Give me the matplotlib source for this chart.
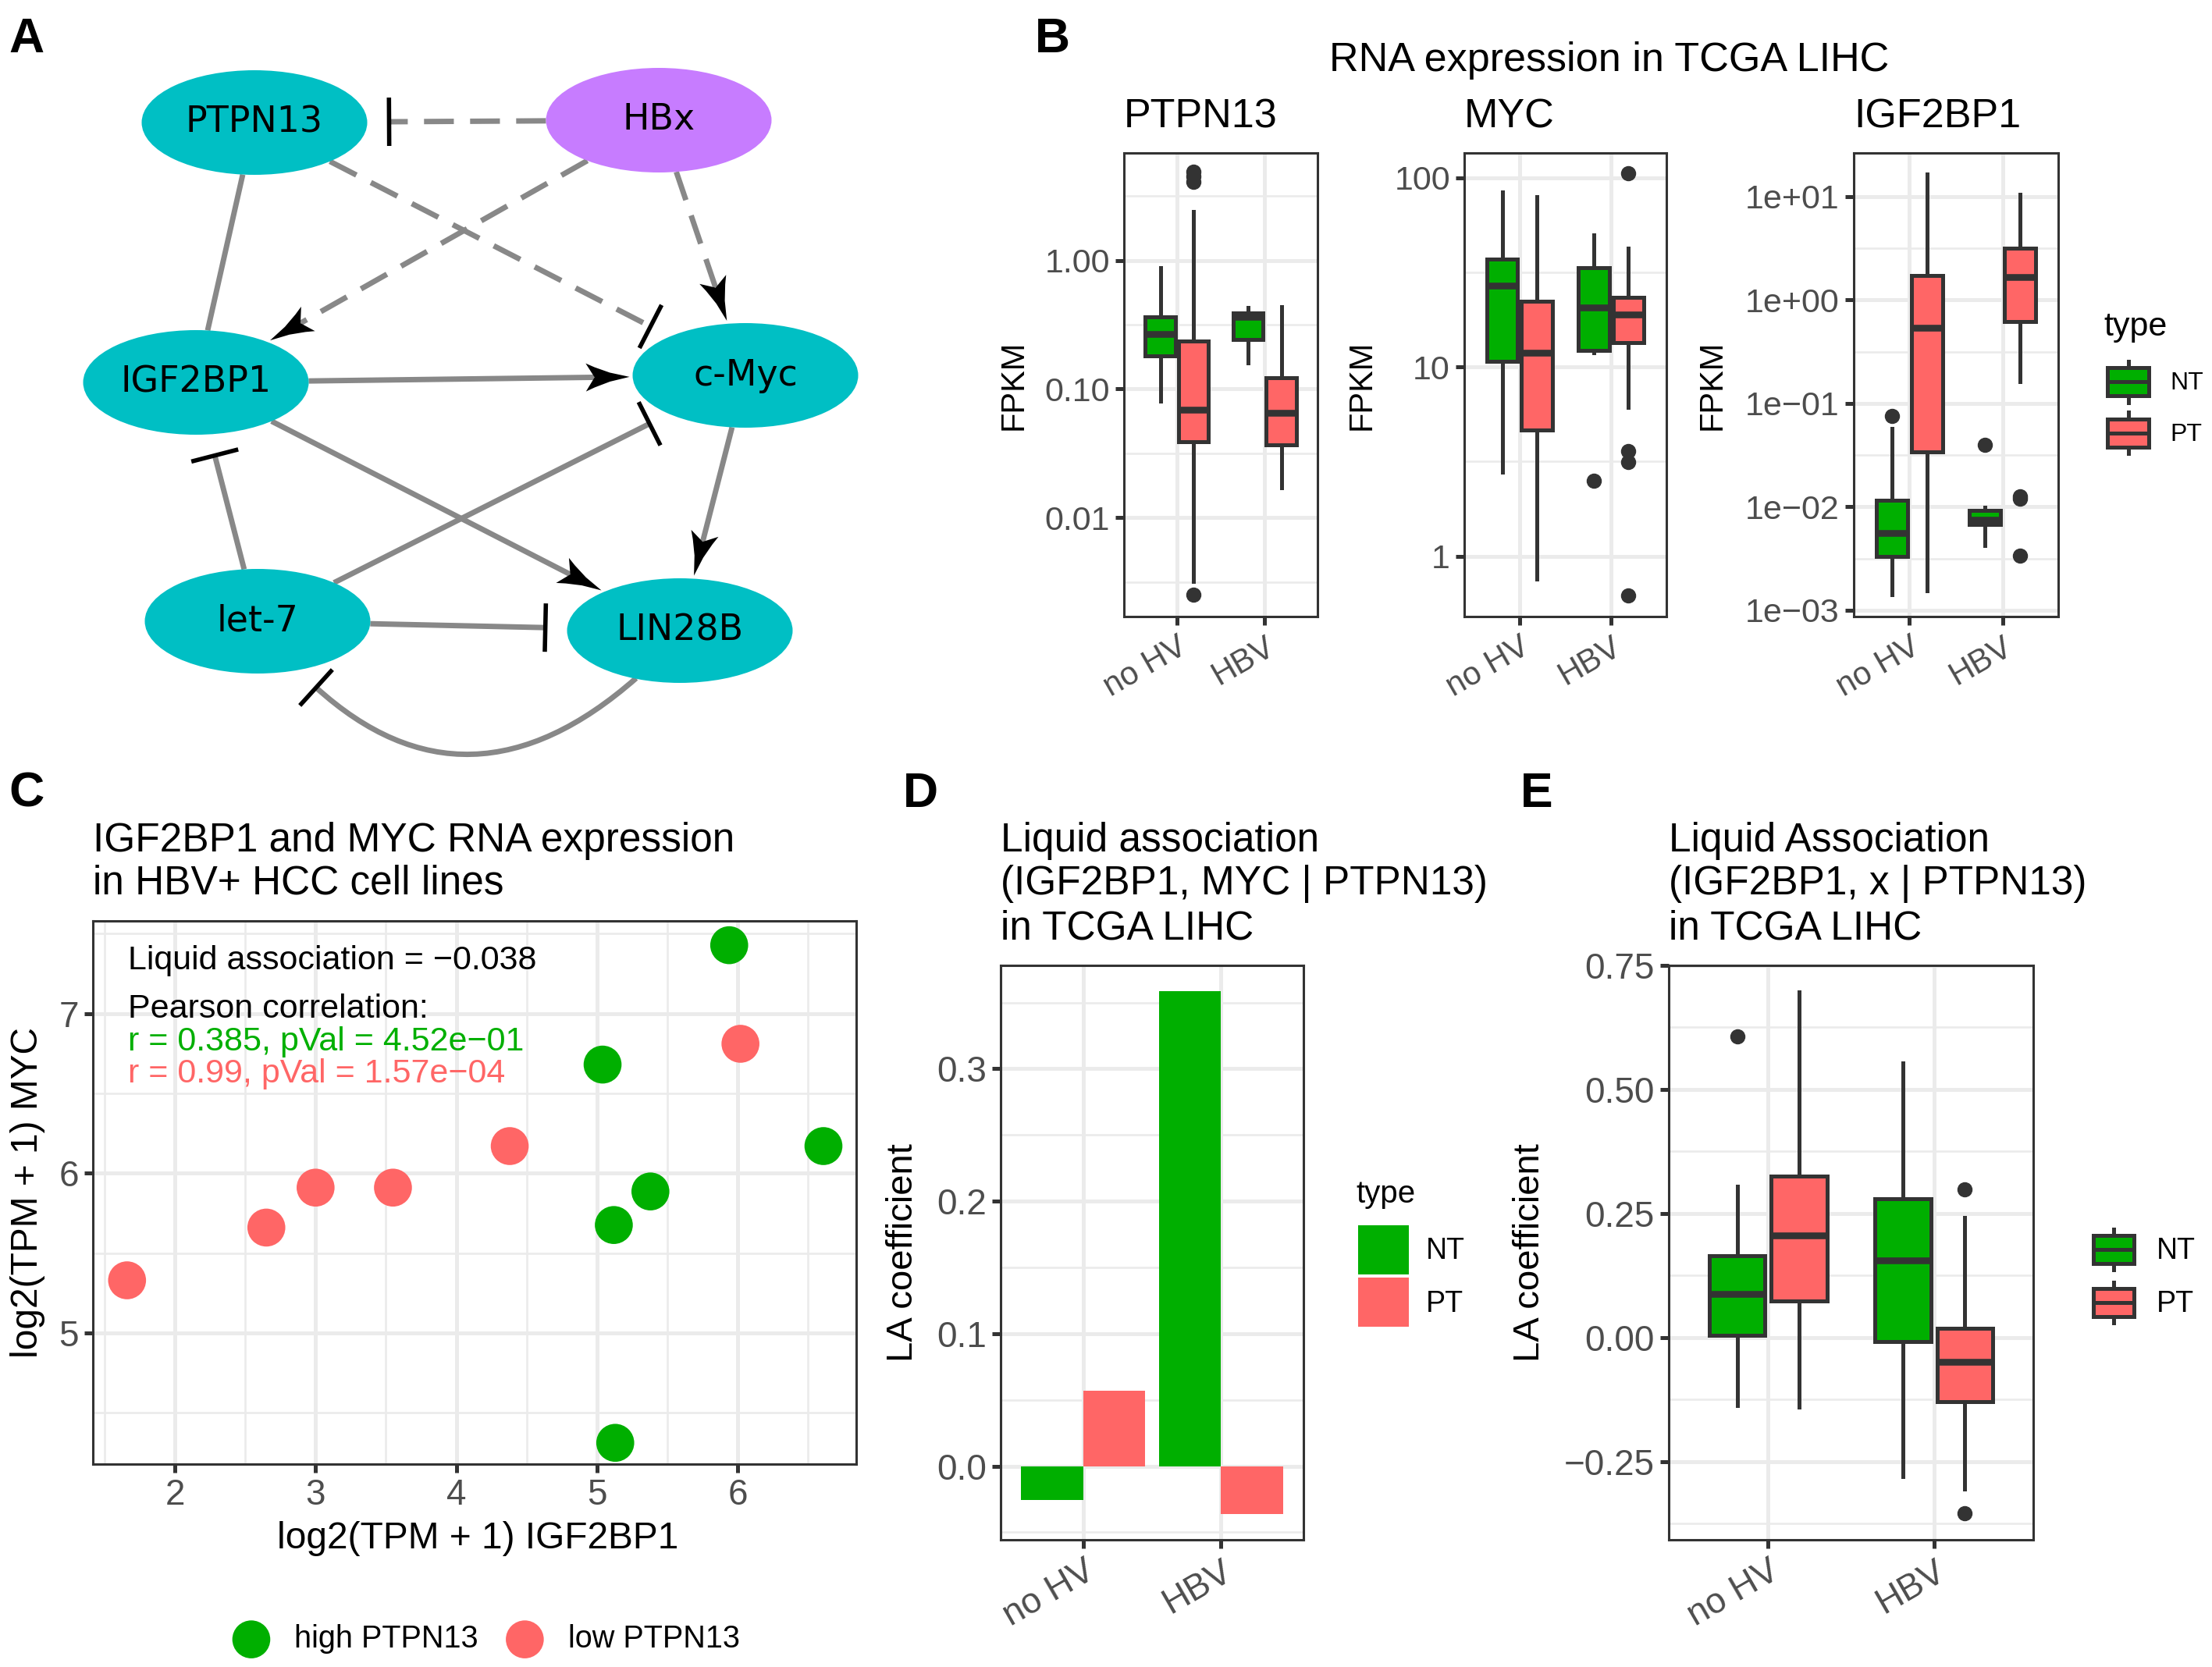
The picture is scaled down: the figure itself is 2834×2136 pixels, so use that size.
import numpy as np
import matplotlib
matplotlib.use("Agg")
import matplotlib.pyplot as plt
from matplotlib.patches import Ellipse, Patch, Rectangle, Polygon
from matplotlib.lines import Line2D
from matplotlib.path import Path
from matplotlib.patches import PathPatch
from matplotlib.legend_handler import HandlerBase
from matplotlib.ticker import FixedLocator, FixedFormatter, NullFormatter

plt.rcParams['font.family'] = ['Liberation Sans', 'DejaVu Sans']

# ---------------- data ----------------
groups = ["no HV", "HBV"]
types = ["NT", "PT"]

# panel A network
node_names = ["PTPN13", "HBx", "IGF2BP1", "c-Myc", "let-7", "LIN28B"]
node_x = [326, 844, 251, 955, 330, 871]
node_y = [157, 154, 490, 481, 796, 808]
node_kind = ["gene", "virus", "gene", "gene", "gene", "gene"]
edges = [
    ("HBx", "PTPN13", "inhibit", True),
    ("PTPN13", "c-Myc", "inhibit", True),
    ("HBx", "IGF2BP1", "activate", True),
    ("HBx", "c-Myc", "activate", True),
    ("PTPN13", "IGF2BP1", "none", False),
    ("IGF2BP1", "c-Myc", "activate", False),
    ("IGF2BP1", "LIN28B", "activate", False),
    ("let-7", "IGF2BP1", "inhibit", False),
    ("let-7", "c-Myc", "inhibit", False),
    ("c-Myc", "LIN28B", "activate", False),
    ("let-7", "LIN28B", "inhibit", False),
]
curved_edge = ("LIN28B", "let-7")

# panel B boxplot summaries: [whislo, q1, median, q3, whishi]
# order: noHV-NT, noHV-PT, HBV-NT, HBV-PT
ptpn13_box = [[0.081, 0.180, 0.267, 0.366, 0.88],
              [0.0032, 0.0388, 0.069, 0.235, 2.39],
              [0.16, 0.243, 0.364, 0.39, 0.43],
              [0.017, 0.0366, 0.065, 0.122, 0.436]]
ptpn13_out = [[], [0.0025, 4.1, 4.5, 4.9], [], []]
myc_box = [[2.79, 10.7, 26.8, 37.1, 83.8],
           [0.757, 4.63, 11.9, 22.3, 79.6],
           [11.9, 12.2, 20.7, 33.5, 49.9],
           [6.1, 13.5, 19.0, 23.4, 42.5]]
myc_out = [[], [], [2.5], [105, 3.6, 3.13, 0.62]]
igf2bp1_box = [[0.00141, 0.00331, 0.00558, 0.01156, 0.057],
               [0.00155, 0.0338, 0.541, 1.72, 16.5],
               [0.0042, 0.0068, 0.0075, 0.0092, 0.0099],
               [0.163, 0.62, 1.67, 3.15, 10.6]]
igf2bp1_out = [[0.0755], [], [0.040], [0.0127, 0.0120, 0.00337]]

# panel C cell lines
high_x = [5.94, 5.04, 6.61, 5.38, 5.12, 5.13]
high_y = [7.427, 6.68, 6.17, 5.886, 5.676, 4.313]
low_x = [6.02, 4.38, 3.55, 3.00, 2.65, 1.66]
low_y = [6.81, 6.17, 5.91, 5.91, 5.66, 5.33]

# panel D liquid association bars
la_nt = [-0.0256, 0.3585]
la_pt = [0.0568, -0.0359]

# panel E LA coefficient boxplots
la_box = [[-0.137, 0.005, 0.088, 0.164, 0.305],
          [-0.140, 0.073, 0.205, 0.325, 0.696],
          [-0.281, -0.009, 0.156, 0.279, 0.554],
          [-0.306, -0.129, -0.049, 0.019, 0.242]]
la_out = [[0.607], [], [], [0.299, -0.355]]

# ---------------- style ----------------
W, H = 2834, 2136
GREEN = "#00AF00"
RED = "#FF6666"
TEAL = "#00BFC4"
PURPLE = "#C77CFF"
EDGE = "#333333"
GRID = "#EBEBEB"
TICKC = "#4D4D4D"

fig = plt.figure(figsize=(W / 100, H / 100), dpi=100)


def add_px_axes(x0, y0, x1, y1):
    return fig.add_axes([x0 / W, 1 - y1 / H, (x1 - x0) / W, (y1 - y0) / H])


def ftext(x, y, s, **kw):
    return fig.text(x / W, 1 - y / H, s, **kw)


def style_axes(ax, tick_size):
    ax.set_facecolor("white")
    for sp in ax.spines.values():
        sp.set_color(EDGE)
        sp.set_linewidth(2.2)
    ax.set_axisbelow(True)
    ax.grid(True, which="major", color=GRID, lw=3.6)
    ax.grid(True, which="minor", color=GRID, lw=1.9)
    ax.tick_params(which="major", length=8, width=3.6, color=EDGE,
                   labelsize=tick_size, labelcolor=TICKC, pad=5)
    ax.tick_params(which="minor", length=0)


class BoxKey(HandlerBase):
    def create_artists(self, legend, orig_handle, xd, yd, width, height, fontsize, trans):
        x0, y0 = -xd, -yd
        bh = height * 0.68
        by = y0 + (height - bh) / 2
        fc = orig_handle.get_facecolor()
        w1 = Line2D([x0 + width / 2] * 2, [y0, by], color=EDGE, lw=3.6, transform=trans)
        w2 = Line2D([x0 + width / 2] * 2, [by + bh, y0 + height], color=EDGE, lw=3.6, transform=trans)
        r = Rectangle((x0, by), width, bh, facecolor=fc, edgecolor=EDGE, lw=3.6, transform=trans)
        m = Line2D([x0, x0 + width], [y0 + height / 2] * 2, color=EDGE, lw=3.6, transform=trans)
        return [w1, w2, r, m]


def draw_boxes(ax, box, out):
    xs = np.arange(1, len(groups) + 1)
    pos = [xs[0] - 0.1875, xs[0] + 0.1875, xs[1] - 0.1875, xs[1] + 0.1875]
    stats = []
    for b, o in zip(box, out):
        stats.append(dict(whislo=b[0], q1=b[1], med=b[2], q3=b[3], whishi=b[4], fliers=o))
    res = ax.bxp(stats, positions=pos, widths=0.3375, patch_artist=True, showcaps=False,
                 boxprops=dict(edgecolor=EDGE, linewidth=3.6),
                 medianprops=dict(color=EDGE, linewidth=6.2, solid_capstyle="butt"),
                 whiskerprops=dict(color=EDGE, linewidth=3.6),
                 flierprops=dict(marker="o", markerfacecolor=EDGE, markeredgecolor=EDGE,
                                 markersize=13),
                 manage_ticks=False)
    for patch, c in zip(res["boxes"], [GREEN, RED, GREEN, RED]):
        patch.set_facecolor(c)
    ax.set_xlim(0.4, 2.6)
    ax.set_xticks(xs)
    ax.set_xticklabels(groups, rotation=30, ha="right", rotation_mode="anchor")


# ---------------- panel A ----------------
axA = add_px_axes(0, 0, 1130, 1000)
axA.set_xlim(0, 1130)
axA.set_ylim(1000, 0)
axA.axis("off")
RX, RY = 144.5, 67.0
pos = {n: np.array([x, y], float) for n, x, y in zip(node_names, node_x, node_y)}


def rim(u):
    return 1.0 / np.sqrt((u[0] / RX) ** 2 + (u[1] / RY) ** 2)


def arrow_head(tip, u, L=56, w=36):
    n = np.array([-u[1], u[0]])
    local = [(0, 0), (0.45, 0.16), (0.8, 0.36), (1.0, 0.5), (0.8, 0),
             (1.0, -0.5), (0.8, -0.36), (0.45, -0.16)]
    pts = [tip - u * s * L + n * t * w for s, t in local]
    axA.add_patch(Polygon(pts, closed=True, facecolor="black", edgecolor="none", zorder=4))


def inhibit_bar(p, u, half=31):
    n = np.array([-u[1], u[0]])
    a, b = p + n * half, p - n * half
    axA.plot([a[0], b[0]], [a[1], b[1]], color="black", lw=4, zorder=4,
             solid_capstyle="butt")


for src, dst, kind, dashed in edges:
    p0, p1 = pos[src], pos[dst]
    u = (p1 - p0) / np.linalg.norm(p1 - p0)
    start = p0 + u * rim(u)
    edge_pt = p1 - u * rim(u)
    if kind == "activate":
        tip = edge_pt - u * 4
        end = tip - u * 45
    elif kind == "inhibit":
        end = edge_pt - u * 28
    else:
        end = edge_pt
    ls = (0, (5.5, 3)) if dashed else "-"
    axA.plot([start[0], end[0]], [start[1], end[1]], color="#888888", lw=5, ls=ls,
             zorder=2, solid_capstyle="butt")
    if kind == "activate":
        arrow_head(tip, u)
    elif kind == "inhibit":
        inhibit_bar(end, u)

# curved LIN28B -| let-7
c_start = pos[curved_edge[0]] + np.array([-56, 61])
c_end = pos[curved_edge[1]] + np.array([75, 85])
c_ctrl = np.array([(c_start[0] + c_end[0]) / 2 - 10, 1058])
axA.add_patch(PathPatch(Path([c_start, c_ctrl, c_end], [Path.MOVETO, Path.CURVE3, Path.CURVE3]),
                        facecolor="none", edgecolor="#888888", lw=5, zorder=2))
tan = (c_end - c_ctrl) / np.linalg.norm(c_end - c_ctrl)
inhibit_bar(c_end, tan)

for n, x, y, k in zip(node_names, node_x, node_y, node_kind):
    axA.add_patch(Ellipse((x, y), 2 * RX, 2 * RY, facecolor=PURPLE if k == "virus" else TEAL,
                          edgecolor="none", zorder=3))
    axA.text(x, y, n, ha="center", va="center", fontsize=33, family="DejaVu Sans", zorder=5)

# ---------------- panel B ----------------
b_specs = [
    ("PTPN13", (1440, 196, 1688, 790), ptpn13_box, ptpn13_out, (0.0017, 6.85),
     [0.01, 0.1, 1], ["0.01", "0.10", "1.00"], 1299),
    ("MYC", (1876, 196, 2135, 790), myc_box, myc_out, (0.48, 135),
     [1, 10, 100], ["1", "10", "100"], 1745),
    ("IGF2BP1", (2375, 196, 2637, 790), igf2bp1_box, igf2bp1_out, (0.00087, 26.4),
     [1e-3, 1e-2, 1e-1, 1, 10], ["1e\u221203", "1e\u221202", "1e\u221201", "1e+00", "1e+01"], 2194),
]
for name, rect, box, out, ylim, ticks, labels, lab_x in b_specs:
    ax = add_px_axes(*rect)
    ax.set_yscale("log")
    draw_boxes(ax, box, out)
    ax.set_ylim(*ylim)
    ax.yaxis.set_major_locator(FixedLocator(ticks))
    ax.yaxis.set_major_formatter(FixedFormatter(labels))
    ax.yaxis.set_minor_locator(FixedLocator([10 ** (k + 0.5) for k in range(-4, 3)]))
    ax.yaxis.set_minor_formatter(NullFormatter())
    style_axes(ax, 31)
    ax.tick_params(axis="x", labelsize=30)
    ax.grid(False, axis="x", which="minor")
    ftext(rect[0], 163, name, fontsize=37.5, ha="left", va="baseline")
    ftext(lab_x, 493, "FPKM", fontsize=30, rotation=90, ha="center", va="center")

ftext(2062, 91, "RNA expression in TCGA LIHC", fontsize=37.5, ha="center", va="baseline")
box_handles = [Patch(facecolor=GREEN, label="NT"), Patch(facecolor=RED, label="PT")]
ftext(2695, 419, "type", fontsize=31, ha="left", va="center")
fig.legend(handles=box_handles, handler_map={Patch: BoxKey()}, loc="center left",
           bbox_to_anchor=(2700 / W, 1 - 522 / H), frameon=False, fontsize=23,
           handlelength=1.66, handleheight=2.18, labelspacing=0.38, handletextpad=0.85,
           borderpad=0, borderaxespad=0)

# ---------------- panel C ----------------
axC = add_px_axes(119, 1180, 1097, 1876)
axC.scatter(high_x, high_y, s=1225, color=GREEN, edgecolors="none", label="high PTPN13", zorder=3)
axC.scatter(low_x, low_y, s=1225, color=RED, edgecolors="none", label="low PTPN13", zorder=3)
axC.set_xlim(1.417, 6.843)
axC.set_ylim(4.18, 7.579)
axC.set_xticks([2, 3, 4, 5, 6])
axC.set_yticks([5, 6, 7])
axC.xaxis.set_minor_locator(FixedLocator([1.5, 2.5, 3.5, 4.5, 5.5, 6.5]))
axC.yaxis.set_minor_locator(FixedLocator([4.5, 5.5, 6.5, 7.5]))
style_axes(axC, 33)
axC.text(1.665, 7.274, "Liquid association = \u22120.038", fontsize=31, va="baseline")
axC.text(1.665, 6.972, "Pearson correlation:", fontsize=31, va="baseline")
axC.text(1.665, 6.769, "r = 0.385, pVal = 4.52e\u221201", fontsize=31, va="baseline", color=GREEN)
axC.text(1.665, 6.566, "r = 0.99, pVal = 1.57e\u221204", fontsize=31, va="baseline", color=RED)
ftext(119, 1091, "IGF2BP1 and MYC RNA expression", fontsize=37, va="baseline")
ftext(119, 1146, "in HBV+ HCC cell lines", fontsize=37, va="baseline")
ftext(612, 1972, "log2(TPM + 1) IGF2BP1", fontsize=34.5, ha="center", va="center")
ftext(36, 1528, "log2(TPM + 1) MYC", fontsize=34.5, rotation=90, ha="center", va="center")
fig.legend(handles=axC.collections, loc="center", bbox_to_anchor=(623 / W, 1 - 2100 / H),
           ncol=2, frameon=False, fontsize=28.5, handlelength=1.2, handletextpad=0.8,
           columnspacing=0.9, borderpad=0, borderaxespad=0, scatterpoints=1)

# ---------------- panel D ----------------
axD = add_px_axes(1282, 1237, 1670, 1973)
xs = np.arange(1, len(groups) + 1)
axD.bar(xs - 0.225, la_nt, width=0.45, color=GREEN, label="NT", zorder=3)
axD.bar(xs + 0.225, la_pt, width=0.45, color=RED, label="PT", zorder=3)
axD.set_xlim(0.4, 2.6)
axD.set_ylim(-0.0556, 0.378)
axD.set_xticks(xs)
axD.set_xticklabels(groups, rotation=30, ha="right", rotation_mode="anchor")
axD.set_yticks([0.0, 0.1, 0.2, 0.3])
axD.set_yticklabels(["0.0", "0.1", "0.2", "0.3"])
axD.yaxis.set_minor_locator(FixedLocator([-0.05, 0.05, 0.15, 0.25, 0.35]))
style_axes(axD, 33)
ftext(1282, 1091, "Liquid association", fontsize=37, va="baseline")
ftext(1282, 1146, "(IGF2BP1, MYC | PTPN13)", fontsize=37, va="baseline")
ftext(1282, 1204, "in TCGA LIHC", fontsize=37, va="baseline")
ftext(1157, 1605, "LA coefficient", fontsize=34, rotation=90, ha="center", va="center")
ftext(1737, 1530, "type", fontsize=29, ha="left", va="center")
fig.legend(handles=[Patch(facecolor=GREEN, label="NT"), Patch(facecolor=RED, label="PT")],
           loc="center left", bbox_to_anchor=(1740 / W, 1 - 1635 / H), frameon=False,
           fontsize=27, handlelength=1.73, handleheight=2.21, labelspacing=0.13,
           handletextpad=0.6, borderpad=0, borderaxespad=0)

# ---------------- panel E ----------------
axE = add_px_axes(2138, 1237, 2605, 1973)
draw_boxes(axE, la_box, la_out)
axE.set_ylim(-0.408, 0.749)
axE.set_yticks([-0.25, 0.0, 0.25, 0.5, 0.75])
axE.set_yticklabels(["\u22120.25", "0.00", "0.25", "0.50", "0.75"])
axE.yaxis.set_minor_locator(FixedLocator([-0.375, -0.125, 0.125, 0.375, 0.625]))
style_axes(axE, 33)
ftext(2138, 1091, "Liquid Association", fontsize=37, va="baseline")
ftext(2138, 1146, "(IGF2BP1, x | PTPN13)", fontsize=37, va="baseline")
ftext(2138, 1204, "in TCGA LIHC", fontsize=37, va="baseline")
ftext(1960, 1605, "LA coefficient", fontsize=34, rotation=90, ha="center", va="center")
fig.legend(handles=box_handles, handler_map={Patch: BoxKey()}, loc="center left",
           bbox_to_anchor=(2682 / W, 1 - 1635 / H), frameon=False, fontsize=27,
           handlelength=1.39, handleheight=1.76, labelspacing=0.43, handletextpad=0.77,
           borderpad=0, borderaxespad=0)

# panel letters
for letter, x, y in [("A", 11, 67), ("B", 1326, 67), ("C", 11, 1034), ("D", 1157, 1034), ("E", 1948, 1034)]:
    ftext(x, y, letter, fontsize=45, fontweight="bold", ha="left", va="baseline")

fig.savefig("out.png", dpi=100, facecolor="white")
